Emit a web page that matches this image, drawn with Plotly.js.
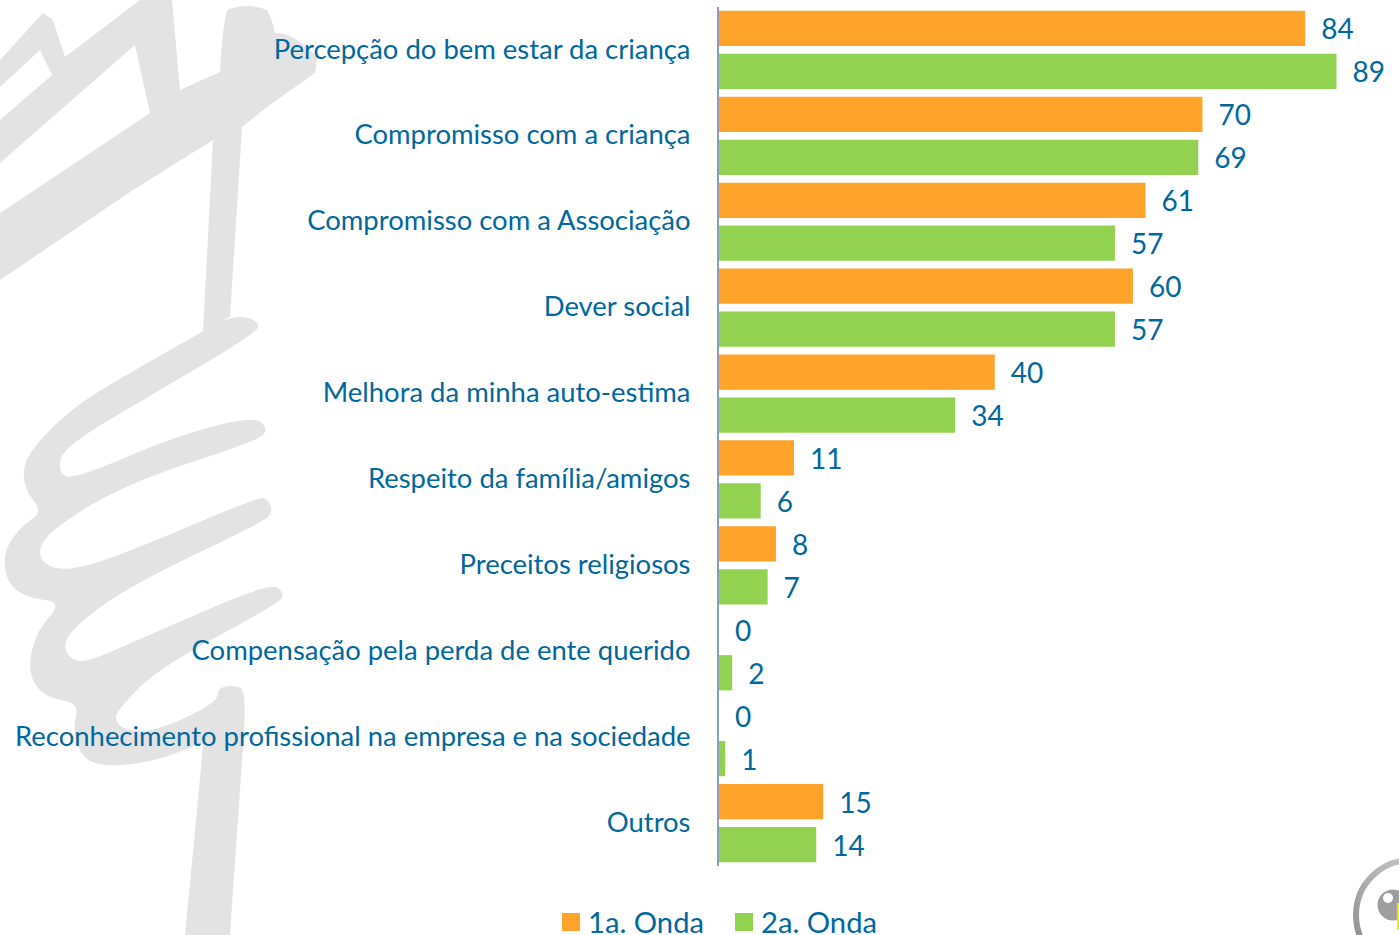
<!DOCTYPE html>
<html>
<head>
<meta charset="utf-8">
<script src="https://cdn.plot.ly/plotly-3.0.1.min.js"></script>
<style>
html,body{margin:0;padding:0;background:#fff;overflow:hidden}
#wrap{position:relative;width:1399px;height:935px}
#bg{position:absolute;left:0;top:0}
#chart{position:absolute;left:0;top:0;width:1399px;height:935px}
</style>
</head>
<body>
<div id="wrap">
<svg id="bg" width="1399" height="935" viewBox="0 0 1399 935" xmlns="http://www.w3.org/2000/svg">
  <defs>
    <filter id="soft" x="-5%" y="-5%" width="110%" height="110%"><feGaussianBlur stdDeviation="0.6"/></filter>
    <filter id="soft2" x="-5%" y="-5%" width="110%" height="110%"><feGaussianBlur stdDeviation="0.7"/></filter>
    <linearGradient id="ring" x1="0.6" y1="0" x2="0" y2="0.8"><stop offset="0" stop-color="#c8c8c8"/><stop offset="1" stop-color="#8e8e8e"/></linearGradient>
  </defs>
  <g filter="url(#soft)" fill="#e3e3e3">
    <path fill-rule="evenodd" d="M0,60 L43,13 L53,20 L65,57 L140,0 L172,0 L180,90 L150,113 L135,45 L0,163 Z M40,50 L52,75 L0,120 L0,87 Z"/>
    <path d="M0,213 L150,113 L180,90 L220,72 Q222,30 227,10 Q247,2 267,10 Q273,22 275,33 Q293,32 317,57 L315,73 L267,107 L242,127 L213,140 L133,190 L0,280 Z"/>
    <path d="M213,140 L242,127 L230,317 L203,332 Z"/>
    <path id="wmBand" d=""/>
  </g>
  <g filter="url(#soft2)">
    <circle cx="1411" cy="915" r="55" fill="#fff" stroke="url(#ring)" stroke-width="6"/>
    <circle cx="1393" cy="905" r="15.5" fill="#9e9e9e"/>
    <circle cx="1388" cy="898" r="5" fill="#fff"/>
    <rect x="1397" y="903" width="2" height="27" fill="#f7e600"/>
  </g>
</svg>
<div id="chart"></div>
</div>
<script>
// Background watermark outline (decorative, not data)
var wmOutline = [[205,330],[100,390],[67,413],[33,447],[22,470],[27,493],[43,512],[20,527],[3,553],[7,583],[27,598],[63,602],[37,630],[27,670],[43,697],[80,703],[72,730],[83,760],[110,767],[160,760],[203,742],[203,746],[198,800],[185,935],[179,1000],[225,1000],[230,935],[240,790],[247,690],[233,685],[218,688],[217,702],[167,727],[133,733],[115,723],[117,710],[160,667],[280,603],[284,592],[270,583],[167,627],[100,657],[77,663],[63,650],[70,630],[127,587],[263,522],[273,512],[268,499],[258,497],[117,557],[63,572],[37,560],[45,533],[127,483],[260,440],[268,428],[253,416],[173,437],[73,480],[58,472],[63,447],[160,390],[258,332],[258,322],[247,317],[230,317]];
(function(){
  var p = wmOutline, n = p.length, d = '';
  for (var i = 0; i < n; i++) {
    var a = p[i], b = p[(i + 1) % n];
    var mx = (a[0] + b[0]) / 2, my = (a[1] + b[1]) / 2;
    d += (i === 0 ? 'M' + mx + ',' + my : 'Q' + a[0] + ',' + a[1] + ' ' + mx + ',' + my);
  }
  var a0 = p[0], m0 = [(a0[0] + p[1][0]) / 2, (a0[1] + p[1][1]) / 2];
  document.getElementById('wmBand').setAttribute('d', d + 'Q' + a0[0] + ',' + a0[1] + ' ' + m0[0] + ',' + m0[1] + 'Z');
})();

var categories = [
  'Percepção do bem estar da criança',
  'Compromisso com a criança',
  'Compromisso com a Associação',
  'Dever social',
  'Melhora da minha auto-estima',
  'Respeito da família/amigos',
  'Preceitos religiosos',
  'Compensação pela perda de ente querido',
  'Reconhecimento profissional na empresa e na sociedade',
  'Outros'
];
var onda1 = [84.4, 69.6, 61.4, 59.6, 39.7, 10.8, 8.2, 0, 0, 15];
var onda2 = [88.9, 69, 57, 57, 34, 6, 7, 1.9, 0.9, 14];
var labels1 = ['84', '70', '61', '60', '40', '11', '8', '0', '0', '15'];
var labels2 = ['89', '69', '57', '57', '34', '6', '7', '2', '1', '14'];
var seriesNames = ['1a. Onda', '2a. Onda'];
var colors = ['#FFA32B', '#93D250'];
var textColor = '#00689C';
var fontFamily = 'Lato, "Open Sans", sans-serif';

function barTrace(name, vals, lbls, color) {
  return {
    type: 'bar', orientation: 'h', name: name,
    x: vals, y: categories,
    marker: {color: color, line: {width: 0}},
    text: lbls, textposition: 'outside', cliponaxis: false,
    constraintext: 'none',
    textfont: {family: fontFamily, size: 28, color: textColor}
  };
}
var data = [barTrace(seriesNames[0], onda1, labels1, colors[0]), barTrace(seriesNames[1], onda2, labels2, colors[1])];
var layout = {
  width: 1399, height: 935,
  margin: {l: 718.5, r: 0, t: 6.5, b: 69, pad: 0},
  paper_bgcolor: 'rgba(0,0,0,0)', plot_bgcolor: 'rgba(0,0,0,0)',
  barmode: 'group', bargap: 0, bargroupgap: 0.18,
  font: {family: fontFamily, color: textColor},
  showlegend: true,
  legend: {
    orientation: 'h', x: 0.402, y: 0, xref: 'container', yref: 'container',
    xanchor: 'left', yanchor: 'bottom',
    font: {family: fontFamily, size: 29.2, color: textColor},
    bgcolor: 'rgba(0,0,0,0)', traceorder: 'normal',
    itemclick: false, itemdoubleclick: false
  },
  xaxis: {range: [0, 97.9], visible: false, fixedrange: true},
  yaxis: {
    type: 'category', categoryorder: 'array', categoryarray: categories,
    autorange: false, range: [9.5, -0.5], fixedrange: true,
    showline: true, linecolor: '#8A9DBD', linewidth: 2,
    ticks: '', showgrid: false, zeroline: false,
    ticklabelstandoff: 21,
    tickfont: {family: fontFamily, size: 27.45, color: textColor}
  }
};
Plotly.newPlot('chart', data, layout, {displayModeBar: false}).then(function(gd){
  // push the value labels away from the bar ends
  gd.querySelectorAll('.bars .bartext').forEach(function(t){
    t.setAttribute('transform', 'translate(13,0) ' + (t.getAttribute('transform') || ''));
  });
  // category labels sit one pixel higher in the reference
  gd.querySelectorAll('.ytick text').forEach(function(t){
    t.setAttribute('y', parseFloat(t.getAttribute('y')) - 1);
  });
  // larger square legend swatches, placed as in the reference
  var legend = gd.querySelector('.legend');
  var swatches = legend.querySelectorAll('.legendpoints path');
  swatches.forEach(function(p){ p.setAttribute('d', 'M9,9H-9V-9H9Z'); });
  legend.querySelectorAll('.legendtext').forEach(function(t){
    t.setAttribute('x', parseFloat(t.getAttribute('x')) - 3);
  });
  function shift(el, dx, dy){
    var m = /translate\(([-\d.]+)[ ,]*([-\d.]*)\)/.exec(el.getAttribute('transform') || '');
    var x = m ? parseFloat(m[1]) : 0, y = m && m[2] ? parseFloat(m[2]) : 0;
    el.setAttribute('transform', 'translate(' + (x + dx) + ',' + (y + dy) + ')');
  }
  var r = swatches[0].getBoundingClientRect();
  shift(legend, 562 - r.left, 913 - r.top);
  var traces = legend.querySelectorAll('.traces');
  var r2 = swatches[1].getBoundingClientRect();
  shift(traces[1], 735 - r2.left, 0);
  var clip = legend.querySelector('.scrollbox');
  if (clip) clip.removeAttribute('clip-path');
  legend.removeAttribute('clip-path');
});
</script>
</body>
</html>
